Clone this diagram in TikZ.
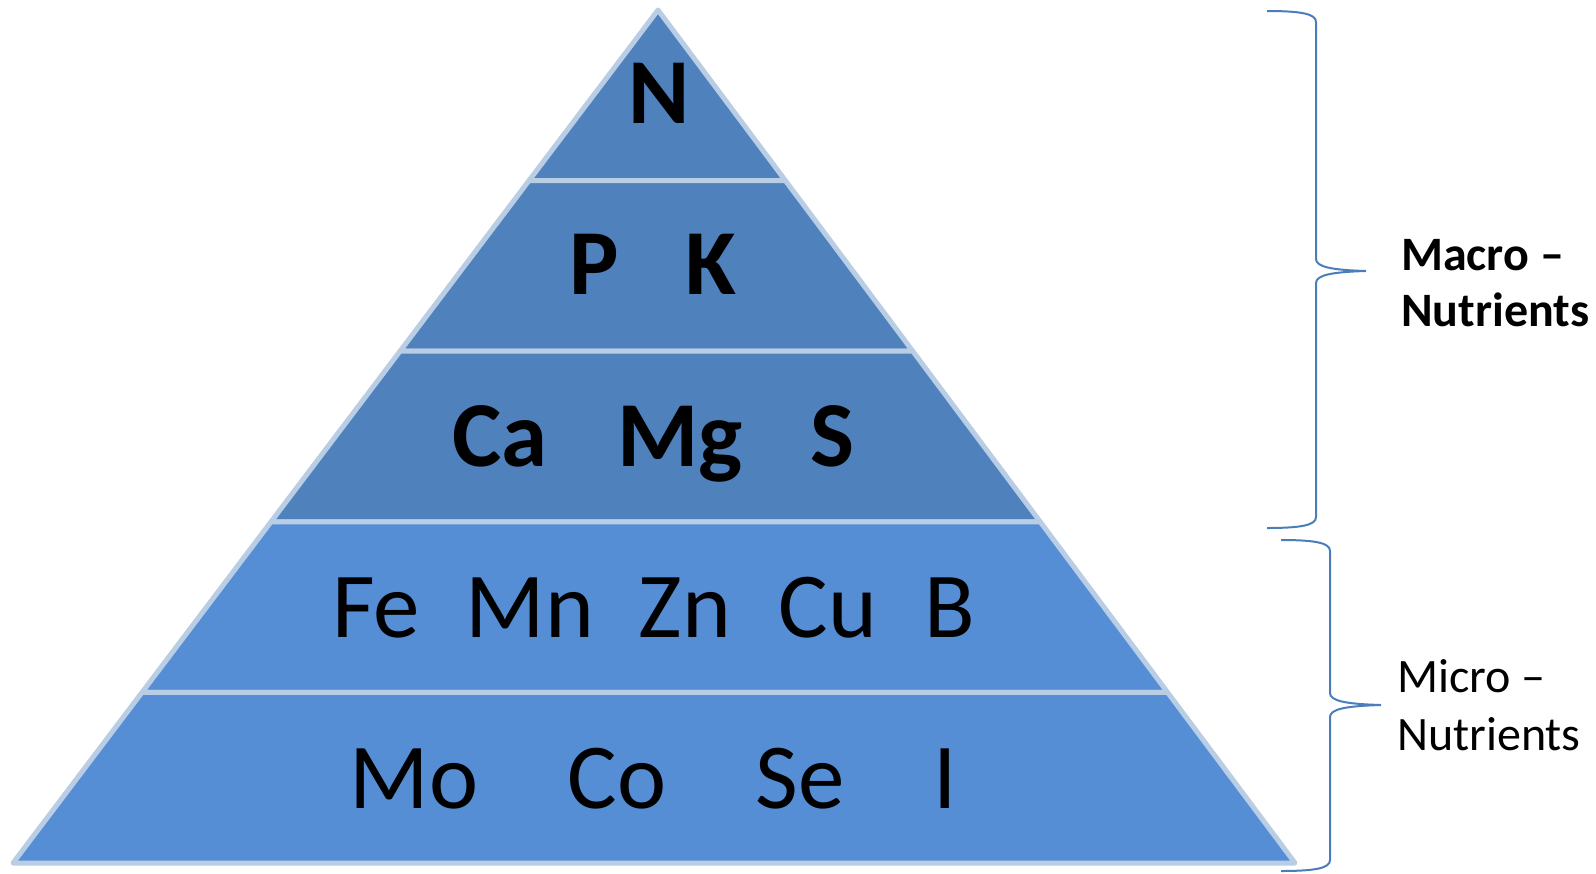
\documentclass[tikz,border=0pt]{standalone}
\usepackage{fontspec}
\setmainfont{Carlito}
\usetikzlibrary{positioning,calc}
\definecolor{LayerDark}{RGB}{79,129,189}
\definecolor{LayerLight}{RGB}{85,142,213}
\definecolor{LayerEdge}{RGB}{185,205,229}
\definecolor{BraceBlue}{RGB}{74,126,187}
\tikzset{
  layer/.style={draw=LayerEdge,line width=5pt,line join=round},
  elem/.style={anchor=base,inner sep=0pt,font=\fontsize{93}{93}\selectfont},
  elembold/.style={anchor=base,inner sep=0pt,font=\fontsize{93}{93}\selectfont\bfseries},
  brace/.style={draw=BraceBlue,line width=2pt},
  grouplab/.style={anchor=base west,align=left,inner sep=0pt},
}

\begin{document}
\begin{tikzpicture}[x=1pt,y=-1pt]
\useasboundingbox (0,0) rectangle (1596,873);
\coordinate (apex) at (658,10);
\coordinate (bl) at (13,863);
\coordinate (br) at (1295,863);
\foreach \k in {1,...,5}{
  \coordinate (l\k) at ($(apex)!\k/5!(bl)$);
  \coordinate (r\k) at ($(apex)!\k/5!(br)$);
}
% layers, top to bottom
\draw[layer,fill=LayerDark] (apex) -- (r1) -- (l1) -- cycle;
\draw[layer,fill=LayerDark] (l1) -- (r1) -- (r2) -- (l2) -- cycle;
\draw[layer,fill=LayerDark] (l2) -- (r2) -- (r3) -- (l3) -- cycle;
\draw[layer,fill=LayerLight] (l3) -- (r3) -- (r4) -- (l4) -- cycle;
\draw[layer,fill=LayerLight] (l4) -- (r4) -- (r5) -- (l5) -- cycle;
% elements
\node[elembold] (n) at (659,123) {N};
\node[elembold] (p) at (594,294) {P};
\node[elembold] (k) at (711,294) {K};
\node[elembold] (ca) at (500,466) {Ca};
\node[elembold] (mg) at (680,466) {Mg};
\node[elembold] (s) at (832,466) {S};
\node[elem] (fe) at (376,637) {Fe};
\node[elem] (mn) at (530,637) {Mn};
\node[elem] (zn) at (685,637) {Zn};
\node[elem] (cu) at (828,637) {Cu};
\node[elem] (b) at (950,637) {B};
\node[elem] (mo) at (414,808) {Mo};
\node[elem] (co) at (617,808) {Co};
\node[elem] (se) at (800,808) {Se};
\node[elem] (i) at (945,808) {I};
% braces
\draw[brace] (1267,11) .. controls (1302,11) and (1316,14) .. (1316,22)
  -- (1316,259) .. controls (1316,267) and (1332,270) .. (1366,271)
  .. controls (1332,272) and (1316,275) .. (1316,283)
  -- (1316,517) .. controls (1316,525) and (1302,528) .. (1267,528);
\draw[brace] (1281,540) .. controls (1316,540) and (1330,543) .. (1330,551)
  -- (1330,693) .. controls (1330,701) and (1346,704) .. (1381,705)
  .. controls (1346,706) and (1330,709) .. (1330,717)
  -- (1330,860) .. controls (1330,868) and (1316,871) .. (1281,871);
\node[grouplab,font=\fontsize{48}{56}\selectfont\bfseries] (macro) at (1401,326) {Macro --\\Nutrients};
\node[grouplab,font=\fontsize{48}{58}\selectfont] (micro) at (1397,750) {Micro --\\Nutrients};
\end{tikzpicture}
\end{document}
